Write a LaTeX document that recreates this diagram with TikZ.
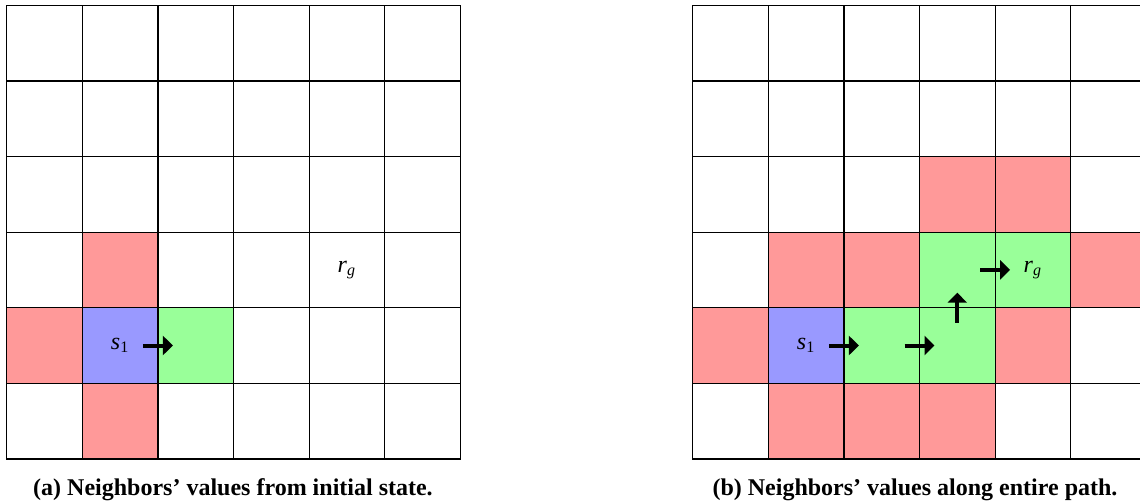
\documentclass[tikz,border=0pt]{standalone}
\usepackage{fontspec}
\setmainfont{Liberation Serif}
\usetikzlibrary{arrows.meta,calc}
\definecolor{cred}{HTML}{FF9999}
\definecolor{cblue}{HTML}{9999FF}
\definecolor{cgreen}{HTML}{99FF99}
\begin{document}
\begin{tikzpicture}[x=0.5pt,y=-0.5pt,
  cell/.style={draw=black,line width=0.6pt,minimum size=37.8pt,inner sep=0pt,outer sep=0pt},
  mv/.style={line width=2pt,-{Triangle[length=5pt,width=9.5pt]}},
  lbl/.style={font=\fontsize{12}{14}\selectfont,inner sep=0pt},
  captxt/.style={font=\fontsize{12}{14}\selectfont\bfseries,inner sep=0pt}]
\clip (0,0) rectangle (1140,503);
\fill[white] (0,0) rectangle (1140,503);
% left grid fills
\foreach \c/\r/\col in {1/3/cred,0/4/cred,1/5/cred,1/4/cblue,2/4/cgreen}
  \fill[\col] ({6.7+75.6*\c},{5.3+75.6*\r}) rectangle ++(75.6,75.6);
% right grid fills
\foreach \c/\r/\col in {3/2/cred,4/2/cred,1/3/cred,2/3/cred,5/3/cred,0/4/cred,4/4/cred,1/5/cred,2/5/cred,3/5/cred,1/4/cblue,2/4/cgreen,3/4/cgreen,3/3/cgreen,4/3/cgreen}
  \fill[\col] ({692.7+75.6*\c},{5.3+75.6*\r}) rectangle ++(75.6,75.6);
% grid cells
\foreach \c in {0,...,5}{
  \foreach \r in {0,...,5}{
    \node[cell] (L\c\r) at ({6.7+75.6*\c+37.8},{5.3+75.6*\r+37.8}) {};
    \node[cell] (R\c\r) at ({692.7+75.6*\c+37.8},{5.3+75.6*\r+37.8}) {};
  }
}
% labels
\node[lbl] (sA) at (L14) {\textit{s}\textsubscript{\upshape 1}};
\node[lbl] (gA) at (L43) {\textit{r}\textsubscript{\textit{g}}};
\node[lbl] (sB) at (R14) {\textit{s}\textsubscript{\upshape 1}};
\node[lbl] (gB) at (R43) {\textit{r}\textsubscript{\textit{g}}};
% arrows
\draw[mv] ($(L14.east)+(-15,0)$) -- ($(L14.east)+(15,0)$);
\draw[mv] ($(R14.east)+(-15,0)$) -- ($(R14.east)+(15,0)$);
\draw[mv] ($(R24.east)+(-15,0)$) -- ($(R24.east)+(15,0)$);
\draw[mv] ($(R34.north)+(0,15)$) -- ($(R34.north)+(0,-15)$);
\draw[mv] ($(R33.east)+(-15,0)$) -- ($(R33.east)+(15,0)$);
% captions
\node[captxt] (capA) at (233,490) {(a) Neighbors’ values from initial state.};
\node[captxt] (capB) at (915,490) {(b) Neighbors’ values along entire path.};
\end{tikzpicture}
\end{document}
